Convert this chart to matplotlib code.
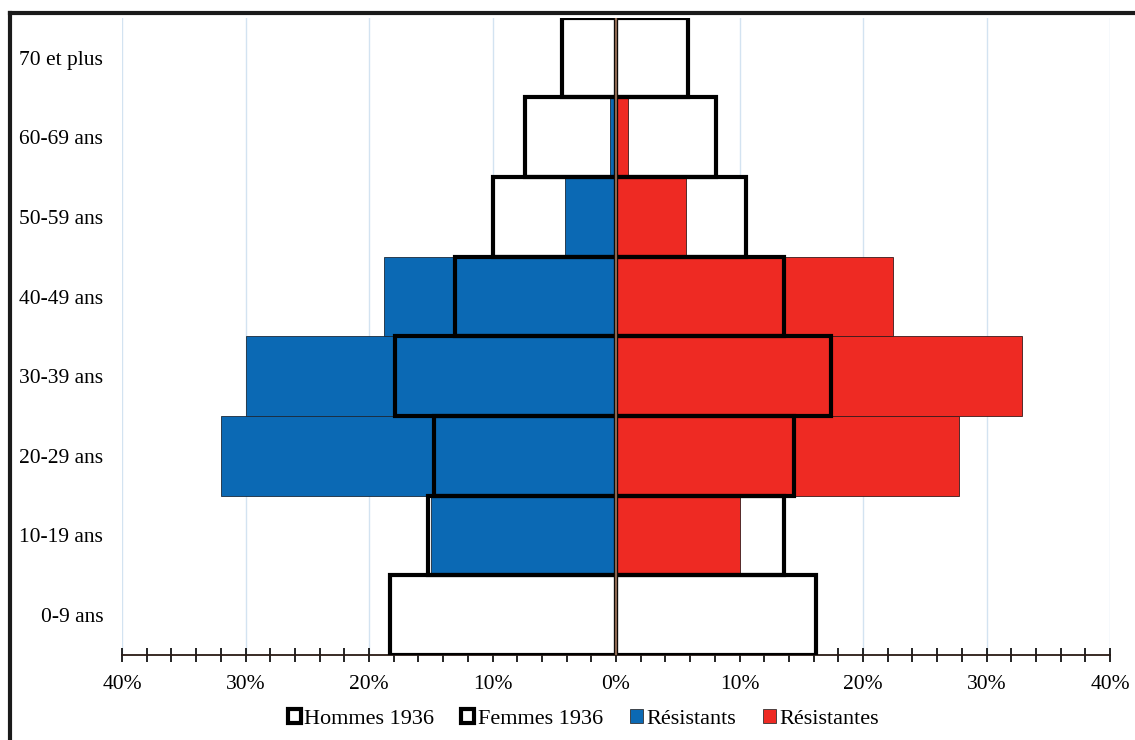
import numpy as np
import matplotlib.pyplot as plt
from matplotlib.patches import Patch
from matplotlib.lines import Line2D
from matplotlib.ticker import MultipleLocator, FuncFormatter

plt.rcParams['font.family'] = ['Liberation Serif', 'DejaVu Serif']

# tranches d'age, du bas vers le haut
ages = ["0-9 ans", "10-19 ans", "20-29 ans", "30-39 ans",
        "40-49 ans", "50-59 ans", "60-69 ans", "70 et plus"]
hommes_1936 = [18.3, 15.2, 14.7, 17.9, 13.0, 10.0, 7.4, 4.4]
femmes_1936 = [16.2, 13.6, 14.4, 17.4, 13.6, 10.5, 8.1, 5.8]
resistants = [0.0, 15.0, 32.0, 30.0, 18.8, 4.1, 0.5, 0.0]
resistantes = [0.0, 10.0, 27.8, 32.9, 22.4, 5.7, 1.0, 0.0]

bleu = '#0B69B4'
rouge = '#EE2A23'

fig = plt.figure(figsize=(11.35, 7.40), dpi=100)
ax = fig.add_axes([0.1075, 0.115, 0.8705, 0.861])

y = np.arange(len(ages))
h = np.array(hommes_1936)
f = np.array(femmes_1936)

# fond blanc des pyramides 1936
ax.barh(y, -h, height=1.0, color='white', zorder=1)
ax.barh(y, f, height=1.0, color='white', zorder=1)

# resistants / resistantes
ax.barh(y, -np.array(resistants), height=1.0, color=bleu,
        edgecolor='#1a2a3a', linewidth=0.6, zorder=2)
ax.barh(y, resistantes, height=1.0, color=rouge,
        edgecolor='#3a1a1a', linewidth=0.6, zorder=2)

# contours 1936
ax.barh(y, -h, height=1.0, fill=False, edgecolor='black', linewidth=3, zorder=3)
ax.barh(y, f, height=1.0, fill=False, edgecolor='black', linewidth=3, zorder=3)

ax.axvline(0, color='#8a6650', linewidth=1.6, zorder=4)

ax.set_xlim(-40, 40)
ax.set_ylim(-0.5, 7.5)
ax.set_yticks(y)
ax.set_yticklabels(ages, fontsize=15.5)
ax.tick_params(axis='y', length=0, pad=13.5)

ax.xaxis.set_major_locator(MultipleLocator(10))
ax.xaxis.set_minor_locator(MultipleLocator(2))
ax.xaxis.set_major_formatter(FuncFormatter(lambda v, p: f"{abs(v):.0f}%"))
ax.tick_params(axis='x', which='both', direction='inout', length=10,
               width=1.2, color='black', labelsize=15.5, pad=9.5)
ax.grid(axis='x', which='major', color='#d3e3f1', linewidth=1, zorder=0)
ax.set_axisbelow(True)

for s in ['top', 'right', 'left']:
    ax.spines[s].set_visible(False)
ax.spines['bottom'].set_linewidth(1.3)
ax.spines['bottom'].set_color('#2a1a14')

handles = [
    Patch(facecolor='white', edgecolor='black', linewidth=3, label='Hommes 1936'),
    Patch(facecolor='white', edgecolor='black', linewidth=3, label='Femmes 1936'),
    Patch(facecolor=bleu, edgecolor='#333333', linewidth=0.6, label='Résistants'),
    Patch(facecolor=rouge, edgecolor='#333333', linewidth=0.6, label='Résistantes'),
]
fig.legend(handles=handles, loc='center', bbox_to_anchor=(0.514, 0.028), ncol=4,
           frameon=False, fontsize=16, handlelength=0.6, handleheight=0.6,
           handletextpad=0.15, columnspacing=1.2)

# cadre noir (haut et gauche)
fig.add_artist(Line2D([0.0085, 1.0], [0.9825, 0.9825], color='#1a1a1a', linewidth=3))
fig.add_artist(Line2D([0.0085, 0.0085], [0.0, 0.9825], color='#1a1a1a', linewidth=3))

fig.savefig('out.png', dpi=100)
